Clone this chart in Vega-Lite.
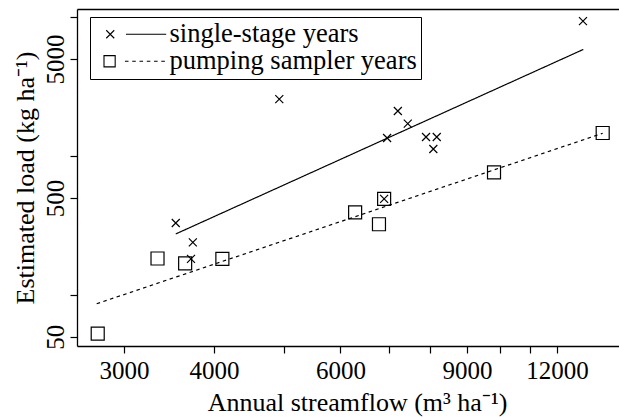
{
  "$schema": "https://vega.github.io/schema/vega-lite/v6.json",
  "autosize": "none",
  "padding": {"left": 77, "top": 9, "right": 0, "bottom": 71},
  "width": 542,
  "height": 337,
  "background": "white",
  "config": {
    "view": {"stroke": null},
    "font": "Liberation Serif",
    "axis": {"grid": false, "domainColor": "black", "domainWidth": 1.3, "tickColor": "black", "tickWidth": 1.2, "tickSize": 7, "labelColor": "black", "titleColor": "black", "labelFont": "Liberation Serif", "titleFont": "Liberation Serif", "labelFontSize": 25, "titleFontSize": 26, "titleFontWeight": "normal", "labelOverlap": false, "labelFlush": false, "labelBound": false}
  },
  "datasets": {
    "points": [
      {"streamflow": 3540, "load": 330, "series": "single-stage years"},
      {"streamflow": 3739, "load": 239, "series": "single-stage years"},
      {"streamflow": 3717, "load": 182, "series": "single-stage years"},
      {"streamflow": 4932, "load": 2576, "series": "single-stage years"},
      {"streamflow": 7210, "load": 2113, "series": "single-stage years"},
      {"streamflow": 7443, "load": 1714, "series": "single-stage years"},
      {"streamflow": 6966, "load": 1351, "series": "single-stage years"},
      {"streamflow": 7891, "load": 1374, "series": "single-stage years"},
      {"streamflow": 8167, "load": 1374, "series": "single-stage years"},
      {"streamflow": 8078, "load": 1126, "series": "single-stage years"},
      {"streamflow": 6900, "load": 492, "series": "single-stage years"},
      {"streamflow": 13046, "load": 9380, "series": "single-stage years"},
      {"streamflow": 2757, "load": 52.6, "series": "pumping sampler years"},
      {"streamflow": 3339, "load": 183, "series": "pumping sampler years"},
      {"streamflow": 3648, "load": 169, "series": "pumping sampler years"},
      {"streamflow": 4110, "load": 182, "series": "pumping sampler years"},
      {"streamflow": 6288, "load": 393, "series": "pumping sampler years"},
      {"streamflow": 6787, "load": 323, "series": "pumping sampler years"},
      {"streamflow": 6900, "load": 492, "series": "pumping sampler years"},
      {"streamflow": 9811, "load": 765, "series": "pumping sampler years"},
      {"streamflow": 13896, "load": 1468, "series": "pumping sampler years"}
    ],
    "fits": [
      {"streamflow": 3540, "load": 275, "fit": "single-stage fit"},
      {"streamflow": 13060, "load": 5870, "fit": "single-stage fit"},
      {"streamflow": 2748, "load": 86.4, "fit": "pumping sampler fit"},
      {"streamflow": 13896, "load": 1461, "fit": "pumping sampler fit"}
    ]
  },
  "layer": [
    {
      "data": {"name": "fits"},
      "mark": {"type": "line", "color": "black", "strokeWidth": 1.2},
      "encoding": {
        "x": {"field": "streamflow", "type": "quantitative", "scale": {"type": "log", "domain": [2580, 14830], "range": [0, 546], "nice": false},
          "axis": {"orient": "top", "domain": true, "ticks": false, "labels": false, "title": null}},
        "y": {"field": "load", "type": "quantitative", "scale": {"type": "log", "domain": [42.87, 11480], "nice": false},
          "axis": {"title": "Estimated load (kg ha⁻¹)", "values": [50, 100, 500, 1000, 5000, 10000],
            "labelExpr": "indexof([50, 500, 5000], datum.value) >= 0 ? format(datum.value, 'd') : ''",
            "labelAngle": -90, "labelAlign": "center", "labelBaseline": "alphabetic", "labelPadding": 7,
            "titleAngle": -90, "titleBaseline": "alphabetic", "titleX": -44, "titleAlign": "center"}},
        "strokeDash": {"field": "fit", "type": "nominal", "scale": {"domain": ["single-stage fit", "pumping sampler fit"], "range": [[1, 0], [3.5, 3.5]]}, "legend": null}
      }
    },
    {
      "data": {"name": "points"},
      "mark": {"type": "point", "filled": false, "color": "black", "strokeWidth": 1.2, "size": 169, "opacity": 1},
      "encoding": {
        "x": {"field": "streamflow", "type": "quantitative",
          "axis": {"orient": "bottom", "title": "Annual streamflow (m³ ha⁻¹)", "values": [3000, 4000, 5000, 6000, 7000, 8000, 9000, 10000, 11000, 12000],
            "labelExpr": "indexof([3000, 4000, 6000, 9000, 12000], datum.value) >= 0 ? format(datum.value, 'd') : ''",
            "labelBaseline": "alphabetic", "labelPadding": 25,
            "titleBaseline": "alphabetic", "titleY": 64, "titleX": 280, "titleAlign": "center"}},
        "y": {"field": "load", "type": "quantitative"},
        "shape": {"field": "series", "type": "nominal",
          "scale": {"domain": ["single-stage years", "pumping sampler years"], "range": ["M-0.615,-0.615L0.615,0.615M-0.615,0.615L0.615,-0.615", "square"]},
          "legend": null}
      }
    },
    {
      "data": {"name": "points"},
      "mark": {"type": "point", "filled": false, "color": "black", "strokeWidth": 1.1, "size": 169, "opacity": 0},
      "encoding": {
        "x": {"field": "streamflow", "type": "quantitative", "axis": null},
        "y": {"field": "load", "type": "quantitative"},
        "shape": {"field": "series", "type": "nominal",
          "scale": {"domain": ["single-stage years", "pumping sampler years"], "range": [
            "M-0.155,-0.615L1.075,0.615M-0.155,0.615L1.075,-0.615M2.875,0L9.07,0",
            "M-0.5,-0.86L1.22,-0.86L1.22,0.86L-0.5,0.86ZM2.72,0L3.27,0M3.84,0L4.39,0M4.96,0L5.51,0M6.08,0L6.63,0M7.2,0L7.75,0M8.32,0L8.87,0"]},
          "legend": {
            "orient": "none", "legendX": 13, "legendY": 8, "title": null, "direction": "vertical",
            "strokeColor": "black", "fillColor": "white", "padding": 4, "rowPadding": 0,
            "labelOffset": 49, "labelFont": "Liberation Serif", "labelFontSize": 26.5, "labelColor": "black", "labelLimit": 400,
            "symbolSize": 169, "symbolStrokeWidth": 1.1, "symbolStrokeColor": "black", "symbolFillColor": "transparent", "symbolOpacity": 1
          }}
      }
    }
  ],
  "resolve": {"axis": {"x": "independent"}, "scale": {"shape": "independent"}}
}
